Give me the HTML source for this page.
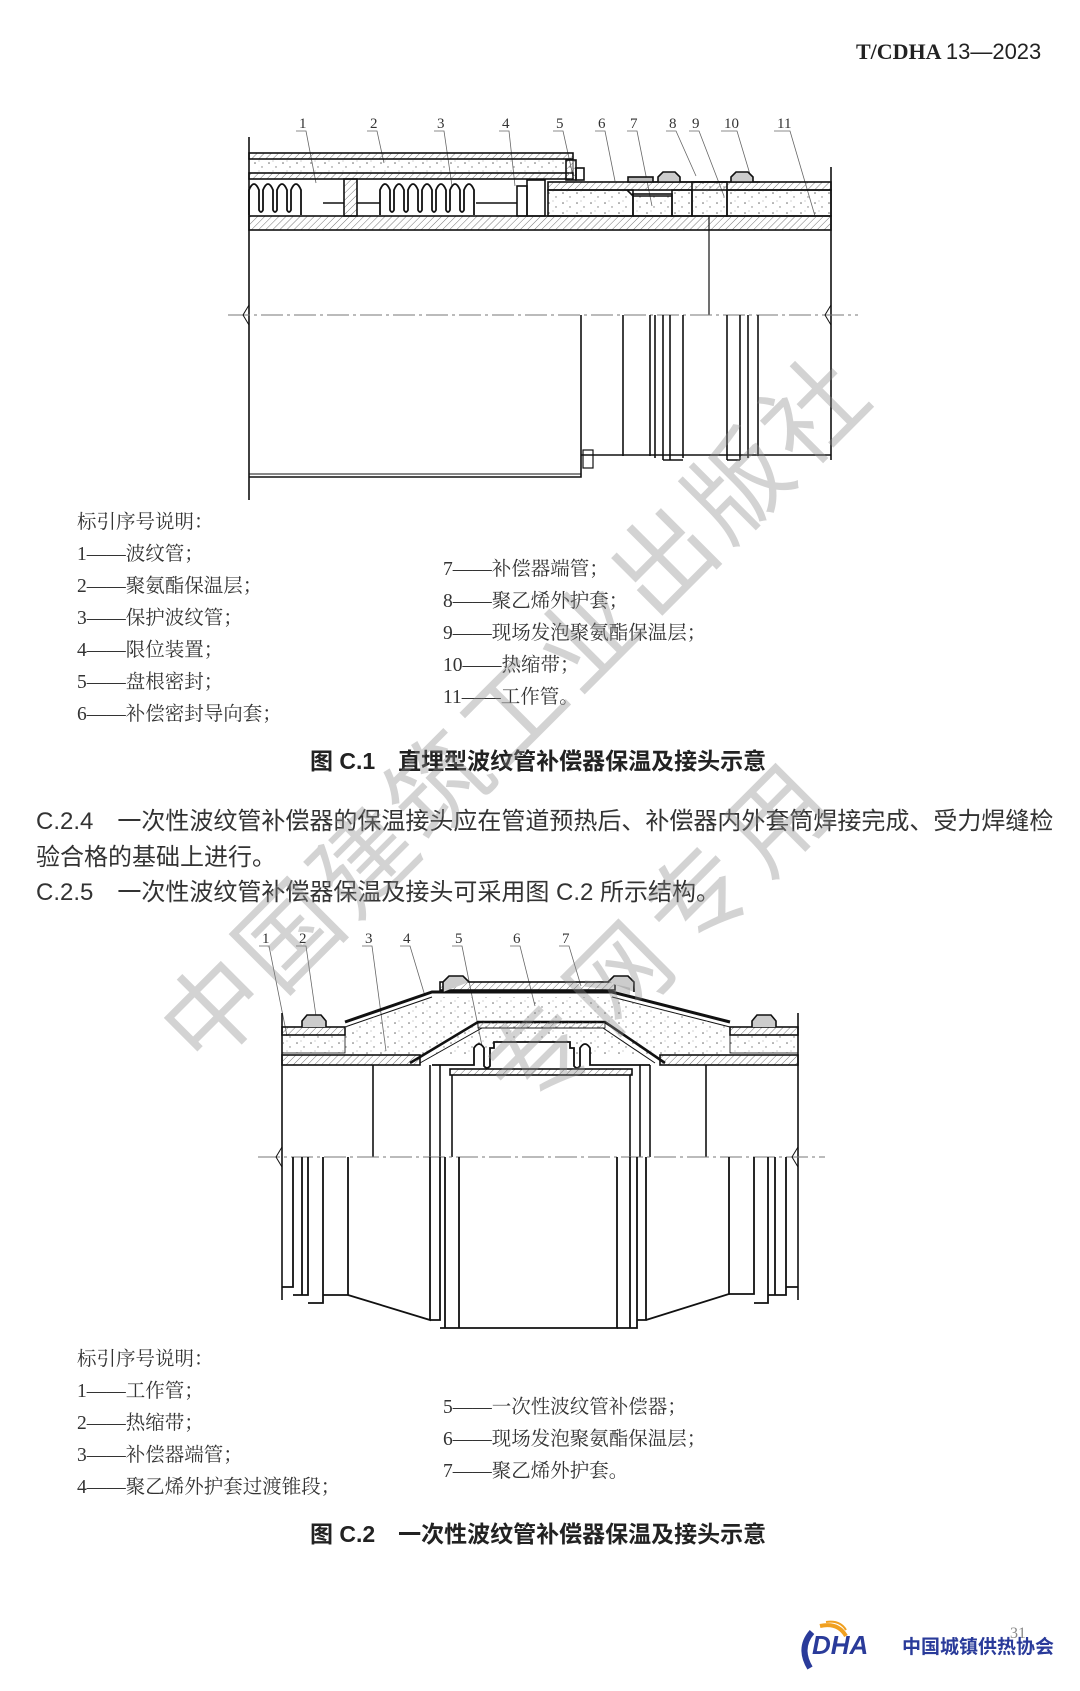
<!DOCTYPE html>
<html><head><meta charset="utf-8">
<style>
html,body{margin:0;padding:0;background:#fff}
body{width:1080px;height:1691px;position:relative;overflow:hidden;font-family:"Liberation Serif","Noto Serif CJK SC",serif;color:#222}
.t{position:absolute;white-space:nowrap;line-height:1}
.lg{font-size:19.5px;color:#333}
.cap{font-family:"Liberation Sans","Noto Sans CJK SC",sans-serif;font-weight:bold;font-size:23px;color:#222}
.p{font-family:"Liberation Sans","Noto Sans CJK SC",sans-serif;font-size:24px;color:#333}
.wm{position:absolute;font-family:"Liberation Sans","Noto Sans CJK SC",sans-serif;font-size:100px;color:rgba(140,140,140,0.38);white-space:nowrap;transform-origin:center center;line-height:1}
</style></head><body>
<div class="t" style="left:856px;top:41px;font-size:22px;font-weight:bold;font-family:'Liberation Serif',serif;">T/CDHA <span style="font-weight:normal;font-family:'Liberation Sans',sans-serif">13—2023</span></div>

<svg width="1080" height="1691" style="position:absolute;left:0;top:0" xmlns="http://www.w3.org/2000/svg">
<defs>
<pattern id="h" width="5" height="5" patternUnits="userSpaceOnUse" patternTransform="rotate(45)"><line x1="0" y1="0" x2="0" y2="5" stroke="#777" stroke-width="1"/></pattern>
<pattern id="f" width="14" height="10" patternUnits="userSpaceOnUse"><circle cx="3" cy="3" r="0.8" fill="#666"/><circle cx="10" cy="7" r="0.7" fill="#777"/><circle cx="7" cy="1" r="0.5" fill="#888"/></pattern>
</defs>
<g stroke="#111" fill="none" stroke-width="1.6">
<!-- FIG 1 -->
<g font-family="Liberation Serif,serif" font-size="15" fill="#333" stroke="none">
<text x="299" y="128">1</text><text x="370" y="128">2</text><text x="437" y="128">3</text><text x="502" y="128">4</text><text x="556" y="128">5</text><text x="598" y="128">6</text><text x="630" y="128">7</text><text x="669" y="128">8</text><text x="692" y="128">9</text><text x="724" y="128">10</text><text x="777" y="128">11</text>
</g>
<g stroke="#666" stroke-width="0.8">
<path d="M296 131h10l10 52"/><path d="M367 131h10l7 32"/><path d="M434 131h10l8 55"/><path d="M499 131h10l6 55"/><path d="M553 131h10l10 45"/><path d="M595 131h10l10 50"/><path d="M627 131h10l15 75"/><path d="M666 131h10l20 45"/><path d="M689 131h10l25 65"/><path d="M721 131h16l15 50"/><path d="M774 131h16l25 85"/>
</g>
<line x1="249" y1="137" x2="249" y2="500"/>
<line x1="831" y1="167" x2="831" y2="460"/>
<rect x="249" y="153" width="324" height="6" fill="url(#h)"/>
<rect x="249" y="159" width="324" height="14" fill="url(#f)" stroke-width="0.8"/>
<rect x="249" y="173" width="324" height="6" fill="url(#h)"/>
<rect x="566" y="160" width="10" height="20" fill="url(#h)"/>
<rect x="576" y="168" width="8" height="12"/>
<path d="M249 215 V190 q5 -12 10 0 v20 q2 4 4 0 v-20 q5 -12 10 0 v20 q2 4 4 0 v-20 q5 -12 10 0 v20 q2 4 4 0 v-20 q5 -12 10 0 V215" stroke-width="1.8"/>
<path d="M380 215 V190 q5 -12 10 0 v20 q2 4 4 0 v-20 q5 -12 10 0 v20 q2 4 4 0 v-20 q5 -12 10 0 v20 q2 4 4 0 v-20 q5 -12 10 0 v20 q2 4 4 0 v-20 q5 -12 10 0 v20 q2 4 4 0 v-20 q5 -12 10 0 v20 q2 4 4 0 v-20 q5 -12 10 0 V215" stroke-width="1.8"/>
<rect x="344" y="179" width="13" height="37" fill="url(#h)"/>
<line x1="323" y1="203" x2="344" y2="203"/><line x1="357" y1="203" x2="380" y2="203"/>
<line x1="476" y1="203" x2="517" y2="203"/>
<rect x="517" y="186" width="10" height="30"/><rect x="527" y="180" width="18" height="36"/>
<rect x="548" y="182" width="283" height="8" fill="url(#h)"/>
<rect x="548" y="190" width="85" height="26" fill="url(#f)"/>
<rect x="633" y="194" width="39" height="22" fill="url(#f)"/>
<path d="M627 190 l6 6 h39"/>
<rect x="672" y="190" width="20" height="26" fill="url(#f)"/>
<rect x="692" y="182" width="35" height="34" fill="url(#f)"/>
<rect x="727" y="190" width="104" height="26" fill="url(#f)"/>
<rect x="628" y="177" width="25" height="5" fill="#bbb"/>
<path d="M658 182 v-5 l5 -5 h12 l5 5 v5" fill="#ccc"/>
<path d="M731 182 v-5 l5 -5 h12 l5 5 v5" fill="#ccc"/>
<line x1="653" y1="182" x2="760" y2="182"/>
<rect x="249" y="216" width="582" height="14" fill="url(#h)"/>
<line x1="709" y1="216" x2="709" y2="315" stroke-width="1.2"/>
<line x1="228" y1="315" x2="858" y2="315" stroke="#777" stroke-width="1" stroke-dasharray="22,4,3,4"/>
<path d="M249 305 l-6 10 l6 10 M831 305 l-6 10 l6 10" stroke-width="1"/>
<path d="M249 477 H581 V315"/>
<line x1="249" y1="474" x2="581" y2="474" stroke-width="1"/>
<path d="M581 455 H831"/>
<rect x="583" y="450" width="10" height="18" stroke-width="1.2"/>
<g stroke-width="1.6">
<line x1="623" y1="315" x2="623" y2="456"/><line x1="650" y1="315" x2="650" y2="456"/><line x1="655" y1="315" x2="655" y2="458"/><line x1="663" y1="315" x2="663" y2="460"/><line x1="670" y1="315" x2="670" y2="460"/><line x1="683" y1="315" x2="683" y2="458"/>
<line x1="727" y1="315" x2="727" y2="460"/><line x1="740" y1="315" x2="740" y2="460"/><line x1="748" y1="315" x2="748" y2="458"/><line x1="758" y1="315" x2="758" y2="456"/>
<path d="M663 460 h20 M727 460 h13"/>
</g>

<!-- FIG 2 -->
<g font-family="Liberation Serif,serif" font-size="15" fill="#333" stroke="none">
<text x="262" y="943">1</text><text x="299" y="943">2</text><text x="365" y="943">3</text><text x="403" y="943">4</text><text x="455" y="943">5</text><text x="513" y="943">6</text><text x="562" y="943">7</text>
</g>
<g stroke="#666" stroke-width="0.8">
<path d="M259 946h10l18 90"/><path d="M296 946h10l10 70"/><path d="M362 946h10l14 105"/><path d="M400 946h10l15 50"/><path d="M452 946h10l20 100"/><path d="M510 946h10l15 60"/><path d="M559 946h10l12 40"/>
</g>
<line x1="282" y1="1013" x2="282" y2="1300"/>
<line x1="798" y1="1013" x2="798" y2="1300"/>
<rect x="282" y="1027" width="63" height="8" fill="url(#h)"/>
<rect x="282" y="1035" width="63" height="18" fill="url(#f)" stroke-width="0.8"/>
<rect x="730" y="1027" width="68" height="8" fill="url(#h)"/>
<rect x="730" y="1035" width="68" height="18" fill="url(#f)" stroke-width="0.8"/>
<path d="M302 1027 v-6 l5 -6 h14 l5 6 v6" fill="#ccc"/>
<path d="M752 1027 v-6 l5 -6 h14 l5 6 v6" fill="#ccc"/>
<path d="M345 1022 L432 992 H612 L730 1022" stroke-width="3"/>
<path d="M345 1027 L432 997 M612 997 L730 1027" stroke-width="1"/>
<rect x="440" y="982" width="175" height="8" fill="url(#h)"/>
<path d="M443 992 v-10 l6 -6 h14 l6 6" fill="#ccc"/>
<path d="M608 982 l6 -6 h14 l6 6 v10" fill="#ccc"/>
<path d="M345 1027 L432 997 H612 L730 1027 V1055 H345 Z" fill="url(#f)" stroke="none"/>
<rect x="282" y="1055" width="138" height="10" fill="url(#h)"/>
<rect x="660" y="1055" width="138" height="10" fill="url(#h)"/>
<path d="M410 1063 L478 1022 H605 L665 1063" stroke-width="2.6"/>
<path d="M420 1063 L482 1028 H603 L655 1063" stroke-width="1"/>
<rect x="478" y="1022" width="127" height="6" fill="url(#h)" stroke-width="0.8"/>
<path d="M432 1065 H474 V1048 q5 -8 10 0 v18 q3 4 6 0 v-18 h4 v-6 h76 v6 h4 v18 q3 4 6 0 v-18 q5 -8 10 0 V1065 H650" stroke-width="1.8" fill="#fff"/>
<rect x="450" y="1069" width="182" height="6" fill="url(#h)"/>
<line x1="373" y1="1065" x2="373" y2="1157"/><line x1="706" y1="1065" x2="706" y2="1157"/>
<line x1="430" y1="1065" x2="430" y2="1157"/><line x1="440" y1="1065" x2="440" y2="1157"/>
<line x1="452" y1="1075" x2="452" y2="1157"/><line x1="630" y1="1075" x2="630" y2="1157"/>
<line x1="640" y1="1065" x2="640" y2="1157"/><line x1="650" y1="1065" x2="650" y2="1157"/>
<line x1="258" y1="1157" x2="825" y2="1157" stroke="#777" stroke-width="1" stroke-dasharray="22,4,3,4"/>
<path d="M282 1147 l-6 10 l6 10 M798 1147 l-6 10 l6 10" stroke-width="1"/>
<g stroke-width="1.8">
<path d="M282 1287 H293 V1157 M293 1295 H302 V1157 M302 1295 H308 V1157 M308 1303 H323 V1157 M323 1295 H348 V1157"/>
<path d="M348 1295 L430 1320 V1157 M430 1320 H440 V1157 M440 1328 H445 V1157 M445 1328 H459 V1157 M459 1328 H617 V1157"/>
<path d="M617 1328 H630 V1157 M630 1328 H637 V1157 M637 1320 H646 V1157 M646 1320 L729 1294 V1157"/>
<path d="M729 1294 H754 V1157 M754 1303 H768 V1157 M768 1295 H775 V1157 M775 1295 H786 V1157 M786 1287 H798"/>
</g>
</g>
</svg>

<div class="t lg" style="left:77px;top:513px">标引序号说明：</div>
<div class="t lg" style="left:77px;top:545px">1——波纹管；</div>
<div class="t lg" style="left:77px;top:577px">2——聚氨酯保温层；</div>
<div class="t lg" style="left:77px;top:609px">3——保护波纹管；</div>
<div class="t lg" style="left:77px;top:641px">4——限位装置；</div>
<div class="t lg" style="left:77px;top:673px">5——盘根密封；</div>
<div class="t lg" style="left:77px;top:705px">6——补偿密封导向套；</div>
<div class="t lg" style="left:443px;top:560px">7——补偿器端管；</div>
<div class="t lg" style="left:443px;top:592px">8——聚乙烯外护套；</div>
<div class="t lg" style="left:443px;top:624px">9——现场发泡聚氨酯保温层；</div>
<div class="t lg" style="left:443px;top:656px">10——热缩带；</div>
<div class="t lg" style="left:443px;top:688px">11——工作管。</div>
<div class="t cap" style="left:310px;top:750px">图 C.1　直埋型波纹管补偿器保温及接头示意</div>

<div class="t p" style="left:36px;top:810px">C.2.4　一次性波纹管补偿器的保温接头应在管道预热后、补偿器内外套筒焊接完成、受力焊缝检</div>
<div class="t p" style="left:36px;top:846px">验合格的基础上进行。</div>
<div class="t p" style="left:36px;top:881px">C.2.5　一次性波纹管补偿器保温及接头可采用图 C.2 所示结构。</div>

<div class="t lg" style="left:77px;top:1350px">标引序号说明：</div>
<div class="t lg" style="left:77px;top:1382px">1——工作管；</div>
<div class="t lg" style="left:77px;top:1414px">2——热缩带；</div>
<div class="t lg" style="left:77px;top:1446px">3——补偿器端管；</div>
<div class="t lg" style="left:77px;top:1478px">4——聚乙烯外护套过渡锥段；</div>
<div class="t lg" style="left:443px;top:1398px">5——一次性波纹管补偿器；</div>
<div class="t lg" style="left:443px;top:1430px">6——现场发泡聚氨酯保温层；</div>
<div class="t lg" style="left:443px;top:1462px">7——聚乙烯外护套。</div>
<div class="t cap" style="left:310px;top:1523px">图 C.2　一次性波纹管补偿器保温及接头示意</div>

<div class="t" style="left:1010px;top:1626px;font-size:16px;color:#888">31</div>
<svg width="90" height="60" style="position:absolute;left:790px;top:1618px">
<path d="M30 8 q18 -4 26 10" stroke="#f0a020" stroke-width="4" fill="none"/>
<path d="M36 4 q14 -2 20 8" stroke="#f0a020" stroke-width="2" fill="none"/>
<path d="M22 14 q-14 16 -2 36" stroke="#2a3b9a" stroke-width="6" fill="none"/>
</svg>
<div class="t" style="left:812px;top:1632px;font-family:'Liberation Sans',sans-serif;font-weight:bold;font-style:italic;font-size:26px;color:#2a3b9a">DHA</div>
<div class="t" style="left:902px;top:1636px;font-family:'Noto Sans CJK SC',sans-serif;font-weight:bold;font-size:19px;color:#2a3b9a">中国城镇供热协会</div>

<div class="wm" style="left:40px;top:660px;transform:rotate(-45deg);letter-spacing:6px">中国建筑工业出版社</div>
<div class="wm" style="left:440px;top:885px;transform:rotate(-45deg);letter-spacing:12px">专网专用</div>
</body></html>
